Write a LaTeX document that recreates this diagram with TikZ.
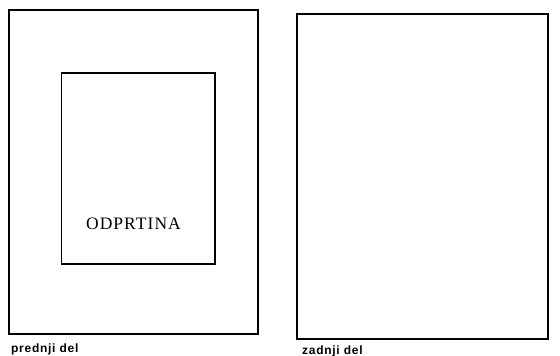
\documentclass[tikz,border=0pt]{standalone}
\usepackage{fontspec}
\setmainfont{Liberation Serif}
\newfontfamily\labfont[LetterSpace=6]{Liberation Sans}
\newfontfamily\opfont[LetterSpace=6]{Liberation Serif}
\begin{document}
\begin{tikzpicture}[x=1pt,y=-1pt,
  outerbox/.style={draw=black,line width=2pt},
  innerbox/.style={draw=black,line width=1.4pt},
  lab/.style={inner sep=0pt,anchor=base west,font=\labfont\bfseries\fontsize{12}{14}\selectfont}]
\useasboundingbox (0,0) rectangle (560,356);
\draw[outerbox] (9,10) rectangle (258,334);
\draw[innerbox] (61.5,73) rectangle (215,264);
\draw[outerbox] (297,14) rectangle (548,338.5);
\node[inner sep=0pt,anchor=base,font=\opfont\fontsize{17.5}{19}\selectfont] (op) at (133.5,229) {ODPRTINA};
\node[lab] (pd) at (11,352.7) {prednji del};
\node[lab] (zd) at (302,354) {zadnji del};
\end{tikzpicture}
\end{document}
